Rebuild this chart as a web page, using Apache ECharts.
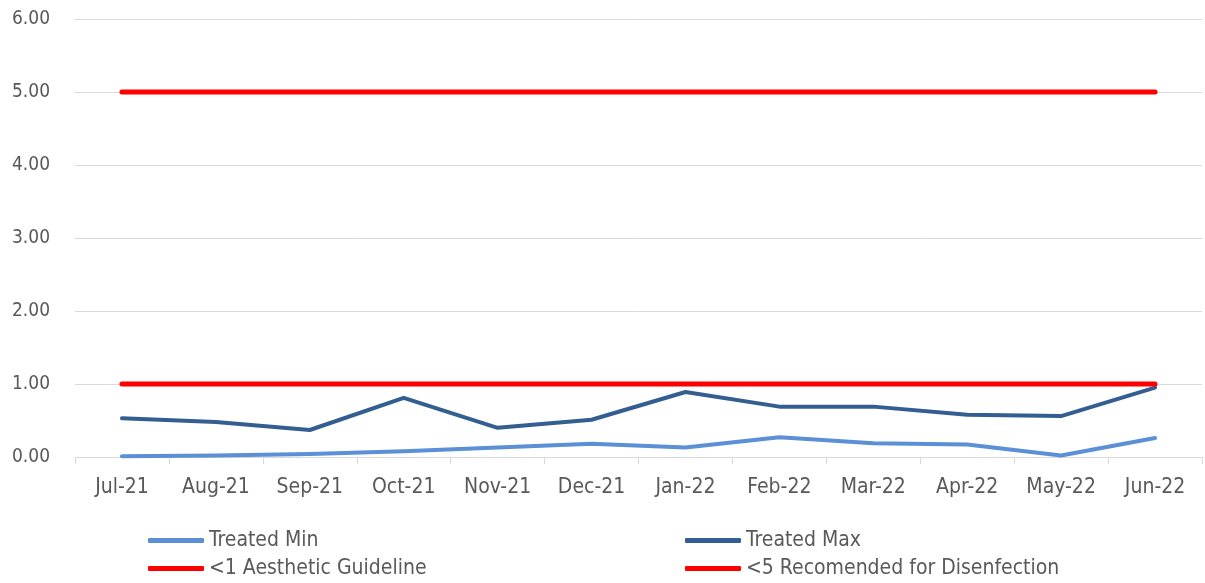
<!DOCTYPE html>
<html>
<head>
<meta charset="utf-8">
<script src="https://cdn.jsdelivr.net/npm/echarts@6/dist/echarts.min.js"></script>
<style>
html, body { margin: 0; padding: 0; background: #ffffff; }
#chart { width: 1205px; height: 583px; }
</style>
</head>
<body>
<div id="chart"></div>
<script>
// months on the x axis
var months = ["Jul-21", "Aug-21", "Sep-21", "Oct-21", "Nov-21", "Dec-21", "Jan-22", "Feb-22", "Mar-22", "Apr-22", "May-22", "Jun-22"];
// readings
var treatedMin = [0.01, 0.02, 0.04, 0.08, 0.13, 0.18, 0.13, 0.27, 0.19, 0.17, 0.02, 0.26];
var treatedMax = [0.53, 0.48, 0.37, 0.81, 0.40, 0.51, 0.89, 0.69, 0.69, 0.58, 0.56, 0.95];
// guideline levels
var aesthetic = [1, 1, 1, 1, 1, 1, 1, 1, 1, 1, 1, 1];
var disinfection = [5, 5, 5, 5, 5, 5, 5, 5, 5, 5, 5, 5];

var font = "'DejaVu Sans Condensed', 'Liberation Sans Narrow', 'Open Sans', sans-serif";
var grey = "#595959";

var chart = echarts.init(document.getElementById("chart"));

function lineSeries(name, data, color, width) {
  return {
    name: name,
    type: "line",
    data: data,
    symbol: "none",
    lineStyle: { color: color, width: width, cap: "round", join: "round" },
    itemStyle: { color: color }
  };
}

// one legend block per entry so they sit in a 2x2 grid like the original
function legendItem(name, left, top) {
  return {
    left: left, top: top, padding: 0,
    icon: "roundRect", itemWidth: 56, itemHeight: 5, itemGap: 4,
    textStyle: { color: grey, fontSize: 21, fontFamily: font },
    data: [name]
  };
}

chart.setOption({
  animation: false,
  grid: { left: 75, right: 3, top: 19, bottom: 126 },
  legend: [
    legendItem("Treated Min", 148, 530),
    legendItem("<1 Aesthetic Guideline", 148, 558),
    legendItem("Treated Max", 685, 530),
    legendItem("<5 Recomended for Disenfection", 685, 558)
  ],
  xAxis: {
    type: "category",
    data: months,
    boundaryGap: true,
    axisLine: { lineStyle: { color: "#d9d9d9", width: 1 } },
    axisTick: { show: true, length: 7, lineStyle: { color: "#d9d9d9" } },
    axisLabel: { color: grey, fontSize: 21, fontFamily: font, margin: 20 }
  },
  yAxis: {
    type: "value",
    min: 0,
    max: 6,
    interval: 1,
    axisLine: { show: false },
    axisTick: { show: false },
    splitLine: { lineStyle: { color: "#d9d9d9", width: 1 } },
    axisLabel: {
      color: grey, fontSize: 19, fontFamily: font, margin: 25,
      formatter: function (v) { return v.toFixed(2); }
    }
  },
  series: [
    lineSeries("Treated Min", treatedMin, "#5b8fd6", 4),
    lineSeries("Treated Max", treatedMax, "#335e92", 4),
    lineSeries("<1 Aesthetic Guideline", aesthetic, "#ff0000", 5),
    lineSeries("<5 Recomended for Disenfection", disinfection, "#ff0000", 5)
  ]
});
</script>
</body>
</html>
